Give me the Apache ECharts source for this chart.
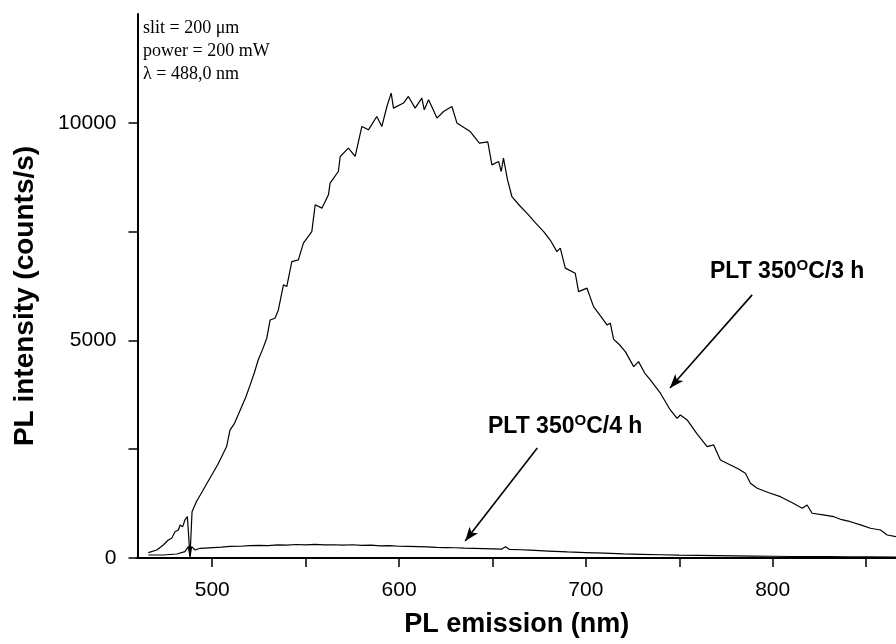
<!DOCTYPE html>
<html>
<head>
<meta charset="utf-8">
<script src="https://cdn.jsdelivr.net/npm/echarts@6/dist/echarts.min.js"></script>
<style>
  html, body { margin: 0; padding: 0; background: #fff; }
  #main { width: 896px; height: 644px; }
</style>
</head>
<body>
<div id="main"></div>
<script>
// PL spectra
// sample annealed 350 C / 3 h
var wl3h = [465.8, 470.3, 473.8, 476.5, 478.3, 480.1, 481.9, 482.8, 484.2, 485.4, 486.7, 488.1,
  489.2, 491.5, 495, 498.8, 503, 507.7, 509.5, 512, 515, 518, 520.3, 522.5, 524.6, 527, 529.2,
  531, 533.6, 535.4, 538.1, 539.9, 542.6, 546.1, 548.8, 553.3, 555.1, 558.7, 562.2, 563.1,
  567.5, 568.5, 572.9, 576.5, 580.1, 583.6, 588.1, 590.8, 593.5, 595.8, 597, 602.4, 605,
  608.6, 612.2, 613.5, 615.8, 620.3, 623.8, 628.3, 631, 634.5, 638.1, 643, 647.5, 649.7,
  653.3, 654.7, 655.9, 658, 660.4, 664.5, 669.3, 673, 677.4, 681, 684.5, 686.3, 689, 694.3, 696.1,
  700.6, 704.1, 708, 711.3, 713.1, 714.8, 718, 721.1, 725.6, 728.2, 731.5, 734.5, 739.9,
  745.2, 748.8, 750.6, 754.2, 759.5, 764.9, 768.4, 772, 777.4, 781.5, 785.4, 788.1, 791.7,
  798, 804.1, 810, 815.8, 818.4, 821.1, 827, 832.7, 837, 841.6, 847, 852.3, 857.7, 861.3, 866];
var int3h = [122, 184, 299, 414, 453, 605, 644, 759, 720, 874, 950, 30,
  1065, 1294, 1550, 1838, 2150, 2560, 2940, 3100, 3400, 3700, 3977, 4250, 4550, 4800, 5050,
  5470, 5510, 5700, 6276, 6237, 6811, 6850, 7234, 7501, 8115, 8039, 8345, 8614,
  8881, 9226, 9418, 9226, 9916, 9839, 10145, 9916, 10375, 10683, 10338, 10453, 10605,
  10338, 10568, 10299, 10529, 10108, 10260, 10375, 9993, 9900, 9800, 9533, 9560, 9034,
  9110, 8881, 9188, 8700, 8306, 8100, 7885, 7700, 7501, 7300, 7041, 7119, 6660, 6545, 6122,
  6200, 5777, 5550, 5356, 5395, 5030, 4900, 4743, 4398, 4513, 4250, 4092, 3786,
  3402, 3211, 3287, 3172, 2850, 2559, 2598, 2253, 2138, 2050, 1947, 1717, 1602,
  1500, 1409, 1280, 1143, 1218, 1028, 990, 949, 880, 834, 760, 683, 644, 529, 490];

// sample annealed 350 C / 4 h
var wl4h = [465.8, 473.8, 481, 485.4, 487.2, 488.1, 489, 490.8, 493.5, 500.6, 505, 509.5, 515,
  520.3, 525, 530, 535, 540, 545, 550, 555, 560, 565, 570, 575, 580, 585, 590, 595, 600, 605,
  610, 615, 620, 625, 630, 635, 640, 645, 650, 655, 657, 659, 665, 670, 680, 690, 700, 710,
  720, 730, 740, 750, 760, 770, 780, 790, 800, 810, 820, 830, 840, 850, 866];
var int4h = [69, 69, 92, 145, 260, 30, 260, 184, 223, 240, 250, 265, 270,
  285, 290, 285, 300, 295, 310, 300, 315, 300, 305, 295, 305, 290, 295, 280, 285, 270, 265,
  260, 255, 245, 240, 235, 225, 220, 215, 210, 205, 260, 200, 190, 180, 160, 140, 125, 110,
  95, 85, 75, 65, 60, 55, 50, 45, 40, 35, 30, 30, 25, 25, 20];

var xTicks = [500, 550, 600, 650, 700, 750, 800, 850];
var xLabels = [500, 600, 700, 800];
var yTicks = [0, 2500, 5000, 7500, 10000];
var yLabels = [0, 5000, 10000];

function zip(xs, ys) {
  return xs.map(function (x, i) { return [x, ys[i]] })
}

var sansFont = 'Liberation Sans, Arial, sans-serif'
var serifFont = 'Liberation Serif, Times New Roman, serif'

var myChart = echarts.init(document.getElementById('main'), null, { renderer: 'canvas' })

// rich text for "350°C" written with a raised O
var annRich = {
  n: { fontFamily: sansFont, fontSize: 23, fontWeight: 'bold', lineHeight: 28 },
  s: { fontFamily: sansFont, fontSize: 15, fontWeight: 'bold', lineHeight: 28, verticalAlign: 'top' }
}

var option = {
  animation: false,
  backgroundColor: '#fff',
  grid: {
    left: 137.5,
    right: 0,
    top: 14,
    bottom: 86,
    outerBoundsMode: 'none'
  },
  xAxis: [
    {
      type: 'value',
      position: 'bottom',
      min: 460,
      max: 866,
      name: 'PL emission (nm)',
      nameLocation: 'middle',
      nameGap: 53,
      nameMoveOverlap: false,
      nameTextStyle: { fontFamily: sansFont, fontSize: 27, fontWeight: 'bold', color: '#000' },
      axisLine: { show: true, onZero: false, lineStyle: { color: '#000', width: 2 } },
      axisTick: { show: true, inside: false, length: 9, customValues: xTicks, lineStyle: { color: '#000', width: 1.5 } },
      axisLabel: { customValues: xLabels, margin: 22, fontFamily: sansFont, fontSize: 21, color: '#000' },
      splitLine: { show: false }
    },
    {
      // top frame line
      type: 'value',
      position: 'top',
      min: 460,
      max: 866,
      axisLine: { show: true, lineStyle: { color: '#000', width: 2 } },
      axisTick: { show: false },
      axisLabel: { show: false },
      splitLine: { show: false }
    }
  ],
  yAxis: {
    type: 'value',
    min: 0,
    max: 12500,
    axisLine: { show: true, onZero: false, lineStyle: { color: '#000', width: 2 } },
    axisTick: { show: true, inside: false, length: 9, customValues: yTicks, lineStyle: { color: '#000', width: 1.5 } },
    axisLabel: {
      customValues: yLabels,
      margin: 21,
      fontFamily: sansFont,
      fontSize: 21,
      color: '#000',
      formatter: function (v) { return String(v) }
    },
    splitLine: { show: false }
  },
  series: [
    {
      name: 'PLT 350C/3 h',
      type: 'line',
      data: zip(wl3h, int3h),
      showSymbol: false,
      lineStyle: { color: '#000', width: 1.2 },
      markLine: {
        silent: true,
        symbol: ['none', 'arrow'],
        symbolSize: [8, 14],
        label: { show: false },
        lineStyle: { color: '#000', width: 1.6, type: 'solid' },
        data: [
          [{ coord: [789, 6046] }, { coord: [745, 3908] }],
          [{ coord: [674, 2529] }, { coord: [635.4, 391] }]
        ]
      }
    },
    {
      name: 'PLT 350C/4 h',
      type: 'line',
      data: zip(wl4h, int4h),
      showSymbol: false,
      lineStyle: { color: '#000', width: 1.2 }
    }
  ],
  graphic: [
    {
      // y axis title
      type: 'text',
      x: 25,
      y: 296,
      rotation: Math.PI / 2,
      style: {
        text: 'PL intensity (counts/s)',
        font: 'bold 28px ' + sansFont,
        fill: '#000',
        align: 'center',
        verticalAlign: 'middle'
      }
    },
    {
      type: 'text',
      x: 143,
      y: 17,
      style: {
        text: 'slit = 200 \u03bcm\npower = 200 mW\n\u03bb = 488,0 nm',
        font: '18px ' + serifFont,
        lineHeight: 23,
        fill: '#000'
      }
    },
    {
      type: 'text',
      x: 710,
      y: 258,
      style: { text: '{n|PLT 350}{s|O}{n|C/3 h}', fill: '#000', rich: annRich }
    },
    {
      type: 'text',
      x: 488,
      y: 413,
      style: { text: '{n|PLT 350}{s|O}{n|C/4 h}', fill: '#000', rich: annRich }
    }
  ]
}

myChart.setOption(option)
</script>
</body>
</html>
